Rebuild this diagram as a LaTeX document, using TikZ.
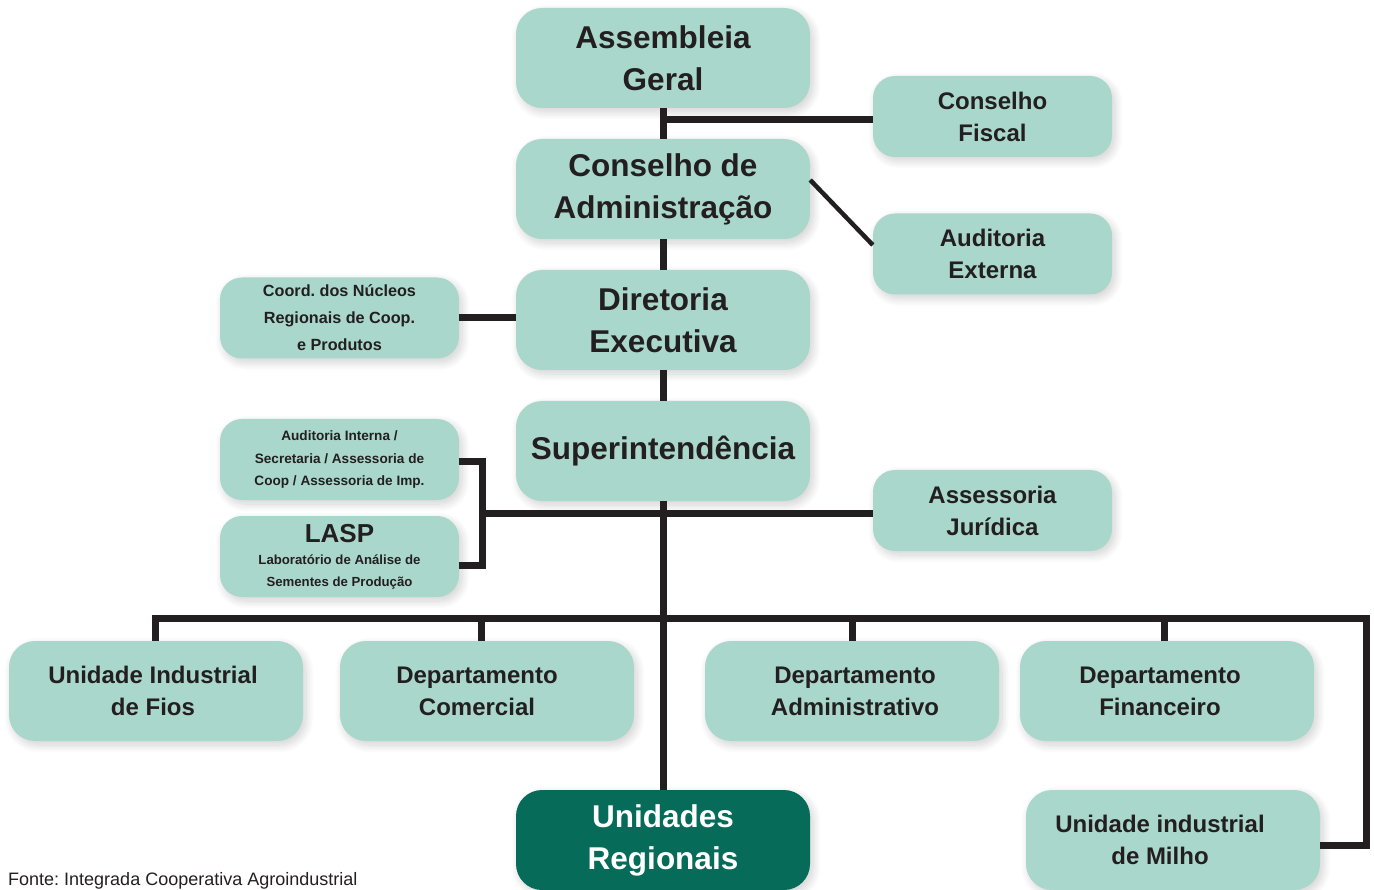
\documentclass[tikz,border=0pt]{standalone}
\usepackage{fontspec}
\setmainfont{Liberation Sans}
\frenchspacing
\usetikzlibrary{shadows.blur}
\definecolor{boxc}{HTML}{A9D7CB}
\definecolor{darkc}{HTML}{076B5A}
\definecolor{txt}{HTML}{231F20}
\tikzset{
  base/.style={rectangle, rounded corners=26pt, fill=boxc, text=txt, align=center, inner sep=0pt,
    blur shadow={shadow xshift=3pt, shadow yshift=-4pt, shadow blur radius=8pt, shadow blur steps=10, shadow opacity=18}},
  bigbox/.style={base, minimum width=294pt, minimum height=100pt, font=\fontsize{31.5}{42}\selectfont\bfseries},
  midbox/.style={base, minimum width=294pt, minimum height=100pt, font=\fontsize{24}{32}\selectfont\bfseries},
  sidebox/.style={base, rounded corners=22pt, minimum width=239pt, minimum height=81pt, font=\fontsize{24}{32}\selectfont\bfseries},
  conn/.style={draw=txt, line width=7pt},
  thinconn/.style={draw=txt, line width=4.5pt}
}
\begin{document}
\begin{tikzpicture}[x=1pt,y=-1pt]
\useasboundingbox (0,0) rectangle (1374,890);
% central column
\node[bigbox] (ag) at (663,58) {Assembleia\\Geral};
\node[bigbox] (ca) at (663,189) {Conselho de\\Administração};
\node[bigbox] (de) at (663,320) {Diretoria\\Executiva};
\node[bigbox] (su) at (663,451) {Superintendência};
\node[bigbox, fill=darkc, text=white] (ur) at (663,840) {Unidades\\Regionais};
% right side
\node[sidebox] (cf) at (992.5,116.5) {Conselho\\Fiscal};
\node[sidebox] (ae) at (992.5,254) {Auditoria\\Externa};
\node[sidebox] (aj) at (992.5,510.5) {Assessoria\\Jurídica};
% left side
\node[sidebox, font=\fontsize{16.2}{27}\selectfont\bfseries] (cn) at (339.5,318) {Coord.\ dos Núcleos\\Regionais de Coop.\\e Produtos};
\node[sidebox, font=\fontsize{13.6}{22.5}\selectfont\bfseries] (ai) at (339.5,459.5) {Auditoria Interna /\\Secretaria / Assessoria de\\Coop / Assessoria de Imp.};
\node[sidebox, font=\fontsize{13.2}{22}\selectfont\bfseries] (lasp) at (339.5,556.5) {{\fontsize{26}{22}\selectfont LASP}\\Laboratório de Análise de\\Sementes de Produção};
% bottom row
\node[midbox] (uf) at (156,691) {Unidade Industrial\hspace*{6pt}\\de Fios\hspace*{6pt}};
\node[midbox] (dc) at (487,691) {Departamento\hspace*{20pt}\\Comercial\hspace*{20pt}};
\node[midbox] (da) at (852,691) {\hspace*{6pt}Departamento\\\hspace*{6pt}Administrativo};
\node[midbox] (df) at (1167,691) {Departamento\hspace*{14pt}\\Financeiro\hspace*{14pt}};
\node[midbox] (um) at (1173,840) {Unidade industrial\hspace*{26pt}\\de Milho\hspace*{26pt}};
% source
\node[anchor=base west, inner sep=0pt, text=txt, font=\fontsize{18}{20}\selectfont] (src) at (8,885) {Fonte: Integrada Cooperativa Agroindustrial};
% connectors
\coordinate (bx) at (482,513);
\coordinate (busR) at (1366,618);
\draw[conn] (ag.south) -- (ca.north);
\draw[conn] (ca.south) -- (de.north);
\draw[conn] (de.south) -- (su.north);
\draw[conn] (su.south) -- (ur.north);
\draw[conn] ([yshift=-3.5pt]cf.west) -- ([yshift=-3.5pt]cf.west -| ag.south);
\draw[thinconn] ([yshift=9pt]ca.east) -- ([yshift=9pt]ae.west);
\draw[conn] (cn.east) -- (cn.east -| de.west);
\draw[conn, line join=miter] ([yshift=-2.5pt]ai.east) -| (bx) |- ([yshift=-8.5pt]lasp.east);
\draw[conn] (bx) -- (bx -| aj.west);
\draw[conn, line join=miter] ([xshift=-1pt]uf.north) |- (busR) |- ([yshift=-5pt]um.east);
\draw[conn] ([xshift=-6pt]dc.north) -- ([xshift=-6pt]dc.north |- busR);
\draw[conn] (da.north) -- (da.north |- busR);
\draw[conn] ([xshift=-3pt]df.north) -- ([xshift=-3pt]df.north |- busR);
\end{tikzpicture}
\end{document}
